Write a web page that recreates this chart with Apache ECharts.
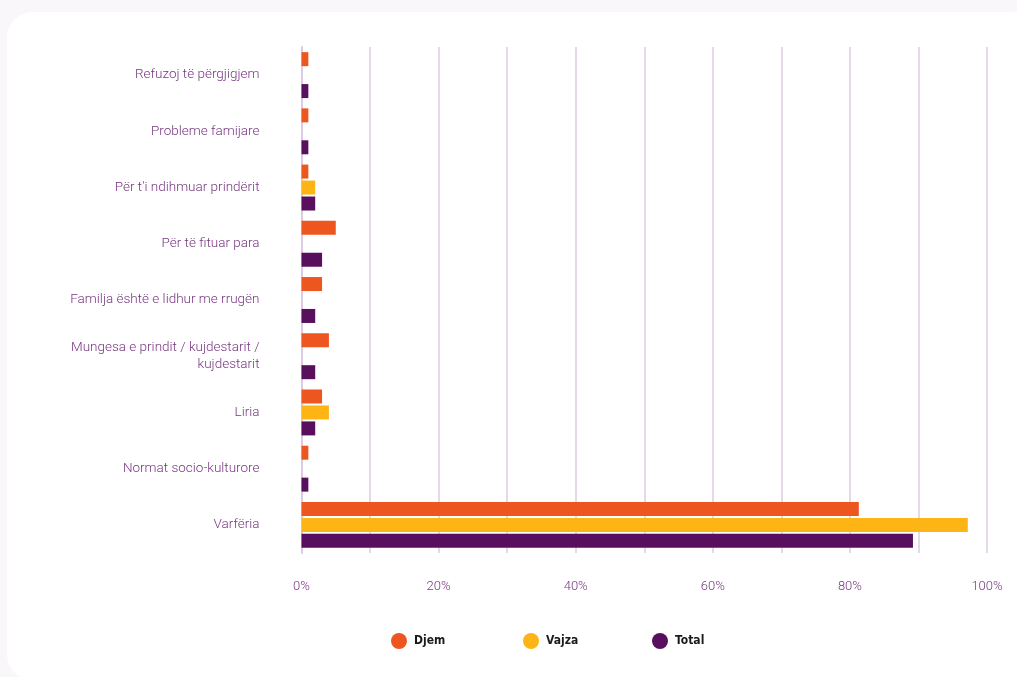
<!DOCTYPE html>
<html>
<head>
<meta charset="utf-8">
<script src="https://cdn.jsdelivr.net/npm/echarts@6/dist/echarts.min.js"></script>
<style>
html,body{margin:0;padding:0;background:#f9f7fa;width:1017px;height:677px;overflow:hidden;}
#card{position:absolute;left:7px;top:12px;width:1030px;height:668px;background:#fff;border-radius:26px;}
#chart{position:absolute;left:0;top:0;width:1017px;height:677px;}
</style>
</head>
<body>
<div id="card"></div>
<div id="chart"></div>
<script>
const categories = [
  "Refuzoj të përgjigjem",
  "Probleme famijare",
  "Për t'i ndihmuar prindërit",
  "Për të fituar para",
  "Familja është e lidhur me rrugën",
  "Mungesa e prindit / kujdestarit /\nkujdestarit",
  "Liria",
  "Normat socio-kulturore",
  "Varfëria"
];
const seriesNames = ['Djem', 'Vajza', 'Total'];
const djem  = [1, 1, 1, 5, 3, 4, 3, 1, 81.3];
const vajza = [null, null, 2, null, null, null, 4, null, 97.2];
const total = [1, 1, 2, 3, 2, 2, 2, 1, 89.2];
const xTicks = [0, 20, 40, 60, 80, 100];

const colors = ["#ee561f", "#fdb515", "#580f5e"];
const labelColor = "#773580";
const gridColor = "#dccbe3";
const legendFont = "'DejaVu Sans Condensed', 'Liberation Sans', 'Roboto', sans-serif";

const chart = echarts.init(document.getElementById('chart'), null, {renderer: 'canvas'});
const mkBar = (name, data, c) => ({ name, data, type: 'bar', barWidth: 14, barGap: '14%', itemStyle: { color: c } });
const legendLefts = [386, 518, 647];
chart.setOption({
  animation: false,
  grid: { left: 301.5, right: 30, top: 47, height: 506, containLabel: false },
  xAxis: {
    type: 'value', min: 0, max: 100, interval: 20,
    axisLine: { show: false }, axisTick: { show: false },
    splitLine: { show: true, lineStyle: { color: gridColor, width: 1.5 } },
    minorTick: { show: false, splitNumber: 2 },
    minorSplitLine: { show: true, lineStyle: { color: gridColor, width: 1.5 } },
    axisLabel: { color: labelColor, fontFamily: 'Roboto', fontSize: 13, fontWeight: 300, margin: 27,
      formatter: v => xTicks.includes(v) ? v + '%' : '' }
  },
  yAxis: {
    type: 'category', data: categories, inverse: true,
    axisLine: { show: true, lineStyle: { color: gridColor, width: 2 } },
    axisTick: { show: false },
    axisLabel: { color: labelColor, fontFamily: 'Roboto', fontSize: 13.5, fontWeight: 300, margin: 42, lineHeight: 17, align: 'right' }
  },
  legend: seriesNames.map((n, i) => ({
    left: legendLefts[i], top: 628, itemWidth: 16, itemHeight: 16, itemGap: 7, icon: 'circle',
    textStyle: { color: '#1a1a1a', fontFamily: legendFont, fontWeight: 'bold', fontSize: 12, padding: [0,0,0,2] },
    data: [n]
  })),
  series: [
    mkBar(seriesNames[0], djem, colors[0]),
    mkBar(seriesNames[1], vajza, colors[1]),
    mkBar(seriesNames[2], total, colors[2])
  ]
});
</script>
</body>
</html>
